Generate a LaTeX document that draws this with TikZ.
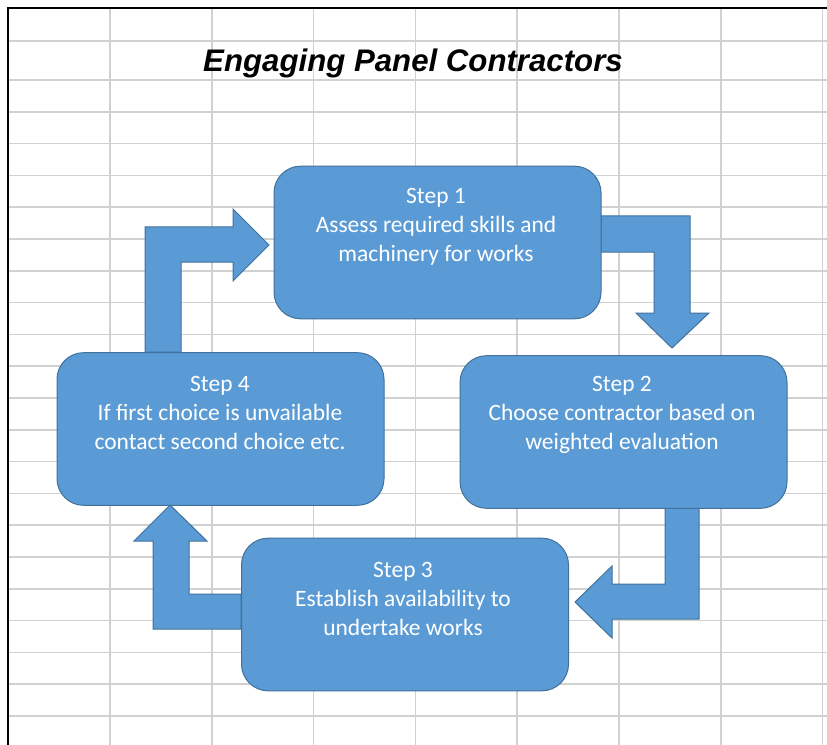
\documentclass[tikz,border=0pt]{standalone}
\usepackage{fontspec}
\setmainfont{Carlito}
\newfontfamily\titlefont{Liberation Sans}
\begin{document}
\begin{tikzpicture}[x=0.75pt,y=-0.75pt,
  gridline/.style={draw=black!18,line width=1.3pt},
  frameline/.style={draw=black,line width=1.5pt},
  stepbox/.style={draw=boxedge,fill=boxfill,line width=0.75pt,rounded corners=20pt,
    minimum width=245.25pt,minimum height=114.5pt,inner sep=0pt,outer sep=0pt},
  steptext/.style={text=white,align=center,font=\fontsize{17.6}{21.75}\selectfont},
  flowarrow/.style={draw=boxedge,fill=boxfill,line width=0.75pt,line join=miter}]
\definecolor{boxfill}{HTML}{5B9BD5}
\definecolor{boxedge}{HTML}{41719C}
\useasboundingbox (0,0) rectangle (827,745);
\fill[white] (0,0) rectangle (827,745);
% spreadsheet grid
\draw[gridline] (8,41) -- (827,41);
\foreach \k in {0,...,20} {\draw[gridline] (8,{80+31.8*\k}) -- (827,{80+31.8*\k});}
\foreach \k in {0,...,7} {\draw[gridline] ({110+101.8*\k},8) -- ({110+101.8*\k},745);}
\draw[frameline] (8,745) -- (8,8) -- (827,8);
% title
\node[font=\titlefont\fontsize{23.4}{28}\selectfont\bfseries\itshape] (title) at (413,63.5) {Engaging Panel Contractors};
% arrows
\draw[flowarrow] (145,352) -- (145,227) -- (233,227) -- (233,209) -- (269,245) -- (233,281) -- (233,262) -- (181,262) -- (181,352) -- cycle;
\draw[flowarrow] (601,216) -- (690,216) -- (690,313) -- (709,313) -- (672,348) -- (636,313) -- (654,313) -- (654,252) -- (601,252) -- cycle;
\draw[flowarrow] (699,507) -- (699,619) -- (612,619) -- (612,638) -- (575,602) -- (612,566) -- (612,584) -- (665,584) -- (665,507) -- cycle;
\draw[flowarrow] (241,629) -- (153,629) -- (153,541) -- (134,541) -- (170,505) -- (207,541) -- (189,541) -- (189,594) -- (241,594) -- cycle;
% boxes
\node[stepbox] (s1) at (437.5,242.5) {};
\node[stepbox] (s2) at (623.5,432) {};
\node[stepbox] (s3) at (405,614.5) {};
\node[stepbox] (s4) at (220.5,429) {};
\node[steptext] (t1) at (436,227) {Step 1\\Assess required skills and\\machinery for works};
\node[steptext] (t2) at (622,415) {Step 2\\Choose contractor based on\\weighted evaluation};
\node[steptext] (t3) at (403,599) {Step 3\\Establish availability to\\undertake works};
\node[steptext] (t4) at (220,413) {Step 4\\If first choice is unvailable\\contact second choice etc.};
\end{tikzpicture}
\end{document}
